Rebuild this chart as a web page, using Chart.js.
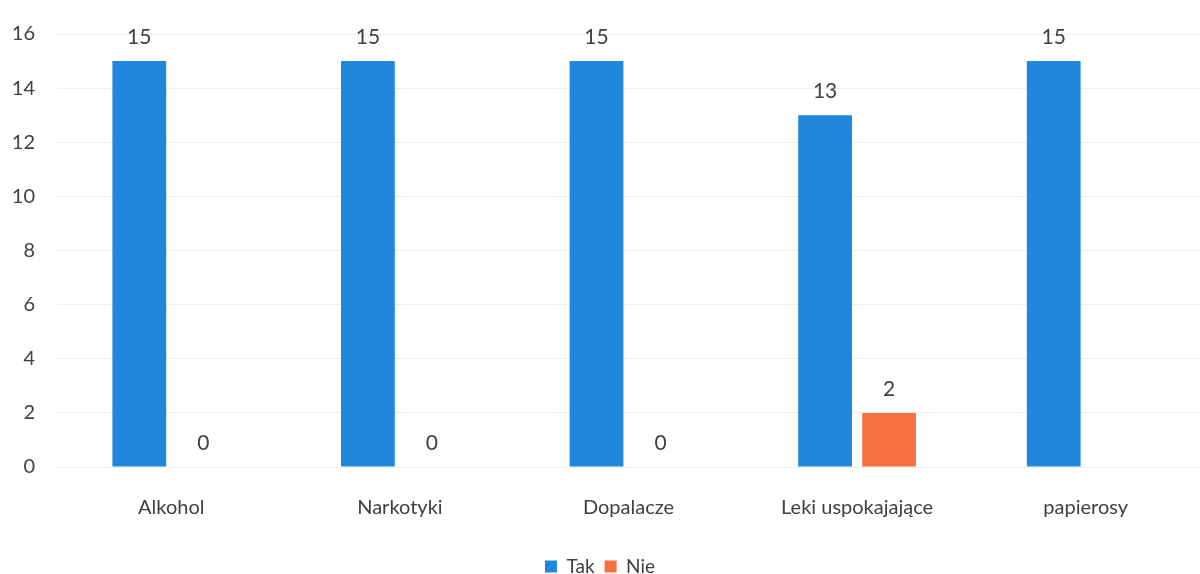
<!DOCTYPE html>
<html>
<head>
    <meta charset="utf-8">
    <title>Tak / Nie</title>
    <script src="https://cdn.jsdelivr.net/npm/chart.js"></script>
    <style>
        body {
            margin: 0;
            background-color: #ffffff;
        }
        #wrap {
            width: 1200px;
            height: 574px;
        }
    </style>
</head>
<body>
    <div id="wrap"><canvas id="chart" width="1200" height="574"></canvas></div>
    <script>
        const categories = ['Alkohol', 'Narkotyki', 'Dopalacze', 'Leki uspokajające', 'papierosy'];
        const takValues = [15, 15, 15, 13, 15];
        const nieValues = [0, 0, 0, 2, null];
        const yTicks = [0, 2, 4, 6, 8, 10, 12, 14, 16];

        const textColor = '#404040';
        const fontName = "Lato, 'Open Sans', sans-serif";

        // draws the value above every bar
        const valueLabels = {
            id: 'valueLabels',
            afterDatasetsDraw(chart) {
                const ctx = chart.ctx;
                ctx.save();
                ctx.fillStyle = textColor;
                ctx.font = '21px ' + fontName;
                ctx.textAlign = 'center';
                ctx.textBaseline = 'bottom';
                chart.data.datasets.forEach((ds, i) => {
                    const meta = chart.getDatasetMeta(i);
                    meta.data.forEach((bar, j) => {
                        const v = ds.data[j];
                        if (v === null) return;
                        ctx.fillText(String(v), bar.x, bar.y - 13);
                    });
                });
                ctx.restore();
            }
        };

        new Chart(document.getElementById('chart'), {
            type: 'bar',
            data: {
                labels: categories,
                datasets: [
                    {
                        label: 'Tak',
                        data: takValues,
                        backgroundColor: '#1f87dc'
                    },
                    {
                        label: 'Nie',
                        data: nieValues,
                        backgroundColor: '#f7703f'
                    }
                ]
            },
            plugins: [valueLabels],
            options: {
                responsive: false,
                animation: false,
                categoryPercentage: 0.56,
                barPercentage: 0.84,
                layout: {
                    padding: { top: 27, right: 0, left: 0, bottom: -12 }
                },
                scales: {
                    x: {
                        grid: { display: false },
                        border: { display: false },
                        afterFit: (axis) => { axis.height = 80; },
                        ticks: {
                            color: textColor,
                            font: { size: 20, family: fontName },
                            padding: 21
                        }
                    },
                    y: {
                        min: 0,
                        max: 16,
                        afterBuildTicks: (axis) => {
                            axis.ticks = yTicks.map(v => ({ value: v }));
                        },
                        afterFit: (axis) => { axis.width = 57; },
                        grid: { color: '#ededed', drawTicks: false },
                        border: { display: false },
                        ticks: {
                            color: textColor,
                            font: { size: 20, family: fontName },
                            padding: 22
                        }
                    }
                },
                plugins: {
                    legend: {
                        position: 'bottom',
                        labels: {
                            color: textColor,
                            font: { size: 19, family: fontName },
                            boxWidth: 12,
                            boxHeight: 12,
                            padding: 10
                        }
                    },
                    tooltip: { enabled: false }
                }
            }
        });
    </script>
</body>
</html>
